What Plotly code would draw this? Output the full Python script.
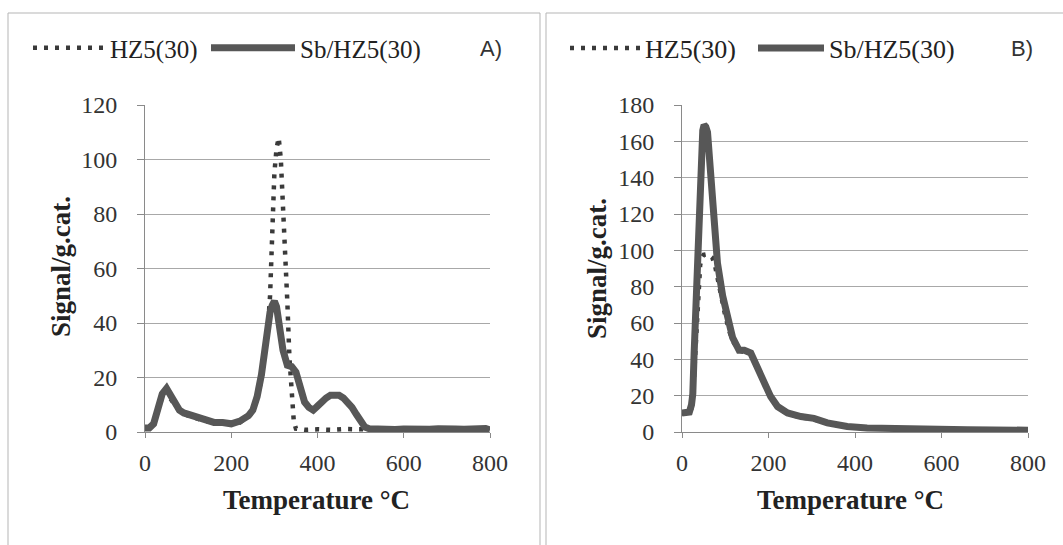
import plotly.graph_objects as go

# ---------------- Data ----------------
# Panel A
a_t_hz = [0, 20, 40, 50, 60, 80, 100, 140, 180, 220, 250, 270, 280, 285, 290, 295, 300, 305, 310,
          315, 320, 325, 330, 335, 340, 345, 350, 370, 400, 430, 460, 500, 540, 580, 620, 660, 700, 740, 780, 800]
a_v_hz = [1.2, 2.5, 13, 15, 12, 7.5, 6, 4, 3.2, 3.5, 7, 19, 32, 38, 50, 75, 95, 104, 108,
          100, 85, 70, 48, 27, 12, 4, 1.2, 0.8, 1.0, 0.8, 1.1, 0.9, 1.0, 0.8, 1.1, 0.9, 1.0, 0.9, 1.1, 1.0]

a_t_sb = [0, 10, 20, 30, 40, 50, 60, 70, 80, 90, 100, 120, 140, 160, 180, 200, 220, 240, 250, 260,
          270, 280, 290, 295, 300, 305, 310, 320, 330, 340, 350, 360, 370, 380, 390, 400, 410, 420,
          430, 440, 450, 460, 470, 480, 490, 500, 510, 520, 540, 560, 580, 600, 620, 640, 660, 680,
          700, 720, 740, 760, 780, 790, 800]
a_v_sb = [1.5, 1.5, 3, 8, 14, 16, 13, 10, 8, 7, 6.5, 5, 4.5, 3.5, 3.5, 3, 4, 6, 8, 13,
          21, 34, 44, 46.5, 48, 46, 41, 30, 24.5, 24, 22, 16, 11, 9, 8, 9.5, 11.5, 12.5,
          13.5, 13.5, 13.5, 12.5, 11, 9, 6.5, 3.5, 1.8, 1.2, 1.0, 1.2, 0.9, 1.1, 0.9, 1.1, 1.0, 1.2,
          0.9, 1.1, 1.0, 1.2, 1.0, 1.3, 0.8]

# Panel B
b_t_hz = [0, 17, 22, 26, 30, 34, 38, 42, 46, 50, 60, 70, 76, 82, 90, 100, 110, 120, 132, 144, 159,
          174, 190, 205, 221, 244, 275, 305, 336, 382, 428, 480, 540, 600, 660, 720, 800]
b_v_hz = [10, 10.5, 13, 22, 40, 60, 80, 92, 96, 97.5, 98, 96, 92, 85, 74, 64, 55, 49, 45, 44, 42.5,
          35, 28, 19, 13.5, 10, 8, 7, 4.8, 2.8, 2.0, 1.6, 1.4, 1.2, 1.1, 1.0, 0.9]

b_t_sb = [0, 10, 17, 22, 25, 28, 32, 36, 40, 44, 48, 51, 55, 59, 63, 67, 74, 82, 94, 105, 117, 132,
          144, 159, 174, 190, 205, 221, 244, 275, 305, 336, 382, 428, 480, 540, 600, 660, 720, 800]
b_v_sb = [10.5, 10.5, 11, 15, 21, 43, 69, 95, 126, 154, 166, 169, 168, 165, 150, 135, 113, 93, 75, 62, 52, 45,
          45, 43.5, 36, 29, 19.5, 14, 10.5, 8.5, 7.5, 5, 3, 2.2, 1.8, 1.5, 1.3, 1.2, 1.1, 1.0]

x_ticks = [0, 200, 400, 600, 800]
a_y_ticks = [0, 20, 40, 60, 80, 100, 120]
b_y_ticks = [0, 20, 40, 60, 80, 100, 120, 140, 160, 180]
series_names = ["HZ5(30)", "Sb/HZ5(30)"]

# ---------------- Styling ----------------
W, H = 1063, 545
SERIF = "Liberation Serif"
DOT_COLOR = "#3a3a3a"
SOLID_COLOR = "#575757"
GRID = "#a8a8a8"
AXIS = "#8a8a8a"
DOT_DASH = "4px,7px"


def px(xp):
    return xp / W


def py(yp):
    return (H - yp) / H


fig = go.Figure()

fig.add_trace(go.Scatter(x=a_t_hz, y=a_v_hz, mode="lines", name=series_names[0],
                         line=dict(color=DOT_COLOR, width=4.5, dash=DOT_DASH),
                         xaxis="x", yaxis="y", legend="legend"))
fig.add_trace(go.Scatter(x=a_t_sb, y=a_v_sb, mode="lines", name=series_names[1],
                         line=dict(color=SOLID_COLOR, width=7),
                         xaxis="x", yaxis="y", legend="legend2"))
fig.add_trace(go.Scatter(x=b_t_hz, y=b_v_hz, mode="lines", name=series_names[0],
                         line=dict(color=DOT_COLOR, width=4.5, dash=DOT_DASH),
                         xaxis="x2", yaxis="y2", legend="legend3"))
fig.add_trace(go.Scatter(x=b_t_sb, y=b_v_sb, mode="lines", name=series_names[1],
                         line=dict(color=SOLID_COLOR, width=7),
                         xaxis="x2", yaxis="y2", legend="legend4"))

tickfont = dict(family=SERIF, size=24, color="#333333")

xcommon = dict(range=[0, 800], tickvals=x_ticks, showline=True, linecolor=AXIS, linewidth=1,
               ticks="outside", ticklen=5, tickcolor=AXIS, showgrid=False, zeroline=False,
               tickfont=tickfont, ticklabelstandoff=4, fixedrange=True)
ycommon = dict(showline=True, linecolor=AXIS, linewidth=1, ticks="outside", ticklen=7,
               tickcolor=AXIS, showgrid=True, gridcolor=GRID, gridwidth=1, zeroline=False,
               tickfont=tickfont, ticklabelstandoff=15, fixedrange=True)

yb, ytA, ytB = py(432), py(105), py(105)


def legend_at(x_left, itemwidth, size):
    return dict(orientation="h", x=px(x_left), y=py(48), xanchor="left", yanchor="middle",
                font=dict(family=SERIF, size=size, color="#222222"), itemwidth=itemwidth,
                bgcolor="rgba(0,0,0,0)", borderwidth=0)


fig.update_layout(
    width=W, height=H,
    margin=dict(l=0, r=0, t=0, b=0, pad=0, autoexpand=False),
    paper_bgcolor="white", plot_bgcolor="white",
    font=dict(family=SERIF, color="#222222"),
    xaxis=dict(domain=[px(145), px(490)], anchor="y", **xcommon),
    yaxis=dict(domain=[yb, ytA], anchor="x", range=[0, 120], tickvals=a_y_ticks, **ycommon),
    xaxis2=dict(domain=[px(682), px(1028)], anchor="y2", **xcommon),
    yaxis2=dict(domain=[yb, ytB], anchor="x2", range=[0, 180], tickvals=b_y_ticks, **ycommon),
    legend=legend_at(28, 72, 25),
    legend2=legend_at(206, 84, 25),
    legend3=legend_at(565, 70, 26),
    legend4=legend_at(753, 66, 26),
    showlegend=True,
)

title_font = dict(family=SERIF, size=27, color="#222222")
annotations = [
    dict(text="<b>Signal/g.cat.</b>", x=px(61), y=py(267), textangle=-90, font=title_font),
    dict(text="<b>Signal/g.cat.</b>", x=px(597), y=py(269), textangle=-90, font=title_font),
    dict(text="<b>Temperature °C</b>", x=px(316), y=py(500), font=title_font),
    dict(text="<b>Temperature °C</b>", x=px(850), y=py(500), font=title_font),
    dict(text="A)", x=px(491), y=py(48), font=dict(family="Liberation Sans", size=22, color="#333333")),
    dict(text="B)", x=px(1022), y=py(48), font=dict(family="Liberation Sans", size=22, color="#333333")),
]
for a in annotations:
    a.update(xref="paper", yref="paper", showarrow=False, xanchor="center", yanchor="middle")
fig.update_layout(annotations=annotations)

frame = dict(color="#b5b5b5", width=1)
shapes = [
    dict(type="line", x0=px(8), x1=px(8), y0=0, y1=py(13), line=frame),
    dict(type="line", x0=px(8), x1=px(540), y0=py(13), y1=py(13), line=frame),
    dict(type="line", x0=px(540), x1=px(540), y0=0, y1=py(13), line=frame),
    dict(type="line", x0=px(546), x1=px(546), y0=0, y1=py(13), line=frame),
    dict(type="line", x0=px(546), x1=1, y0=py(13), y1=py(13), line=frame),
]
for s in shapes:
    s.update(xref="paper", yref="paper", layer="below")
fig.update_layout(shapes=shapes)

fig.write_html("out.html")
